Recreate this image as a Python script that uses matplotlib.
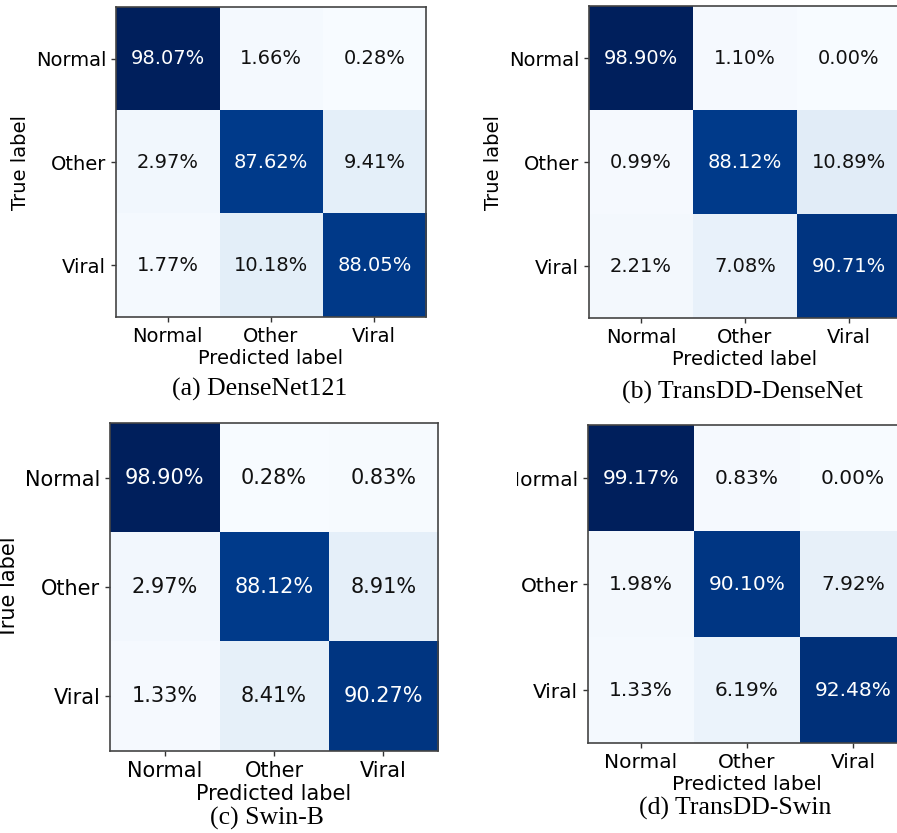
import matplotlib.pyplot as plt
import numpy as np
from matplotlib.colors import LinearSegmentedColormap
from matplotlib.patches import Rectangle

classes = ["Normal", "Other", "Viral"]

# row-normalised confusion matrices, in percent
cm_densenet = [[98.07, 1.66, 0.28],
               [2.97, 87.62, 9.41],
               [1.77, 10.18, 88.05]]
cm_transdd_densenet = [[98.90, 1.10, 0.00],
                       [0.99, 88.12, 10.89],
                       [2.21, 7.08, 90.71]]
cm_swin = [[98.90, 0.28, 0.83],
           [2.97, 88.12, 8.91],
           [1.33, 8.41, 90.27]]
cm_transdd_swin = [[99.17, 0.83, 0.00],
                   [1.98, 90.10, 7.92],
                   [1.33, 6.19, 92.48]]

captions = ["(a) DenseNet121", "(b) TransDD-DenseNet",
            "(c) Swin-B", "(d) TransDD-Swin"]

# Blues with a deeper, more saturated dark end
blues = LinearSegmentedColormap.from_list(
    "blues_deep",
    ["#f7fbff", "#deebf7", "#c6dbef", "#9ecae1", "#6baed6",
     "#4292c6", "#2171b5", "#003f93", "#001f5c"])

W, H = 897, 833
fig = plt.figure(figsize=(W / 100, H / 100), dpi=100)


def px_axes(left, top, width, height):
    return fig.add_axes([left / W, 1 - (top + height) / H, width / W, height / H])


def plot_cm(ax, cm, fs, show_ylabel=True):
    cm = np.array(cm)
    ax.imshow(cm, interpolation="nearest", cmap=blues, aspect="auto")
    ticks = np.arange(len(classes))
    ax.set_xticks(ticks)
    ax.set_yticks(ticks)
    ax.set_xticklabels(classes, fontsize=fs)
    ax.set_yticklabels(classes, fontsize=fs)
    thresh = cm.max() / 2.0
    for i in range(cm.shape[0]):
        for j in range(cm.shape[1]):
            ax.text(j, i, "%.2f%%" % cm[i, j], ha="center", va="center",
                    fontsize=fs, color="white" if cm[i, j] > thresh else "#111111")
    ax.set_xlabel("Predicted label", fontsize=fs, labelpad=2)
    if show_ylabel:
        ax.set_ylabel("True label", fontsize=fs, labelpad=4)
    for s in ax.spines.values():
        s.set_edgecolor("#444444")
        s.set_linewidth(1.2)
    ax.tick_params(length=3.5, width=1, color="#333333")


ax_a = px_axes(116, 7, 310, 310)
plot_cm(ax_a, cm_densenet, 14)
ax_b = px_axes(589, 6, 312, 312)
plot_cm(ax_b, cm_transdd_densenet, 14)
ax_c = px_axes(110, 423, 328, 328)
plot_cm(ax_c, cm_swin, 15)
ax_d = px_axes(588, 425, 318, 318)
plot_cm(ax_d, cm_transdd_swin, 14.5, show_ylabel=False)

# blank strip to the left of panel (d)
fig.add_artist(Rectangle((450 / W, 0), 67 / W, 410 / H, transform=fig.transFigure,
                         facecolor="white", edgecolor="none", zorder=10))

serif = ["Liberation Serif", "DejaVu Serif"]
fig.text(260 / W, 1 - 389 / H, captions[0], ha="center", va="center", fontsize=18.5, family=serif)
fig.text(742 / W, 1 - 392 / H, captions[1], ha="center", va="center", fontsize=18.5, family=serif)
fig.text(267 / W, 1 - 818 / H, captions[2], ha="center", va="center", fontsize=18.5, family=serif)
fig.text(735 / W, 1 - 808 / H, captions[3], ha="center", va="center", fontsize=18.5, family=serif)

fig.savefig("out.png", dpi=100)
